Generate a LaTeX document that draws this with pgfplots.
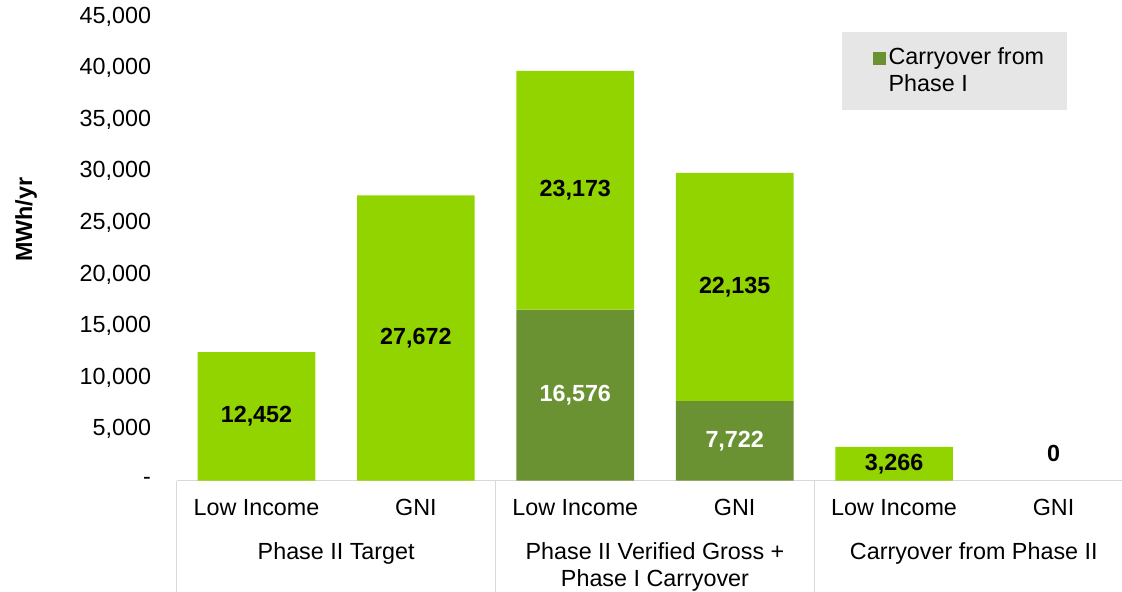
\documentclass[border=0pt]{standalone}
\usepackage{pgfplots}
\pgfplotsset{compat=1.18}
\usepackage{fontspec}
\setmainfont{Liberation Sans}
\definecolor{lightg}{RGB}{146,212,0}
\definecolor{darkg}{RGB}{106,146,50}
\definecolor{sepg}{RGB}{217,217,217}
\definecolor{legg}{RGB}{230,230,230}
\newcommand{\fs}{\fontsize{17.5}{20.5}\selectfont}
\begin{document}
\begin{tikzpicture}
\begin{axis}[
  scale only axis,
  width=717.3pt, height=347.9pt,
  xmin=-0.5, xmax=5.5,
  ymin=0, ymax=45000,
  scaled y ticks=false,
  axis lines*=left,
  x axis line style={draw=sepg, line width=1pt},
  y axis line style={draw=none},
  major tick length=0pt,
  ytick={0,5000,...,45000},
  yticklabels={-,{5,000},{10,000},{15,000},{20,000},{25,000},{30,000},{35,000},{40,000},{45,000}},
  yticklabel style={font=\fs, xshift=-15.8pt},
  xtick={0,...,5},
  xticklabels={Low Income,GNI,Low Income,GNI,Low Income,GNI},
  xticklabel style={font=\fs, yshift=-10.3pt},
  extra x ticks={-0.5,1.5,3.5,5.5},
  extra x tick labels={,,,},
  extra x tick style={major tick length=130pt, tick align=outside, tick style={draw=sepg, line width=1pt}},
  ylabel={MWh/yr},
  ylabel style={font=\fs\bfseries, at={(axis description cs:-0.1575,0.562)}, anchor=center},
  legend style={at={(axis description cs:0.6955,0.9677)}, anchor=north west, fill=legg, draw=none,
    font=\fs, inner xsep=15.25pt, inner ysep=9.8pt, cells={align=left}},
  legend cell align=left,
  legend image code/.code={\path (-8.05pt,8pt); \fill[#1] (0pt,4.35pt) rectangle (9.5pt,13.85pt);},
  clip=false,
]
\addplot[ybar, stack plots=y, bar width=0.738, bar shift=0pt, fill=darkg, draw=none]
  coordinates {(0,0) (1,0) (2,16576) (3,7722) (4,0)};
\addlegendentry{Carryover from\\Phase I}
\addplot[ybar, stack plots=y, bar width=0.738, bar shift=0pt, fill=lightg, draw=none, forget plot]
  coordinates {(0,12452) (1,27672) (2,23173) (3,22135) (4,3266)};
% value labels, light segments (black)
\addplot[draw=none, mark=none, forget plot, nodes near coords, point meta=explicit symbolic,
  nodes near coords style={font=\fs\bfseries, text=black, anchor=center}]
  coordinates {(0,6226) [12,452] (1,13836) [27,672] (2,28162) [23,173] (3,18790) [22,135] (4,1633) [3,266] (5,2640) [0]};
% value labels, dark segments (white)
\addplot[draw=none, mark=none, forget plot, nodes near coords, point meta=explicit symbolic,
  nodes near coords style={font=\fs\bfseries, text=white, anchor=center}]
  coordinates {(2,8288) [16,576] (3,3861) [7,722]};
% group labels
\node[font=\fs, anchor=base] at ([yshift=-58.9pt]axis cs:0.5,0) {Phase II Target};
\node[font=\fs, anchor=base] at ([yshift=-58.9pt]axis cs:2.5,0) {Phase II Verified Gross +};
\node[font=\fs, anchor=base] at ([yshift=-79.7pt]axis cs:2.5,0) {Phase I Carryover};
\node[font=\fs, anchor=base] at ([yshift=-58.9pt]axis cs:4.5,0) {Carryover from Phase II};
\end{axis}
\pgfresetboundingbox
\path[use as bounding box] (-132.6pt,-83.6pt) rectangle (708.9pt,360.4pt);
\end{tikzpicture}
\end{document}
